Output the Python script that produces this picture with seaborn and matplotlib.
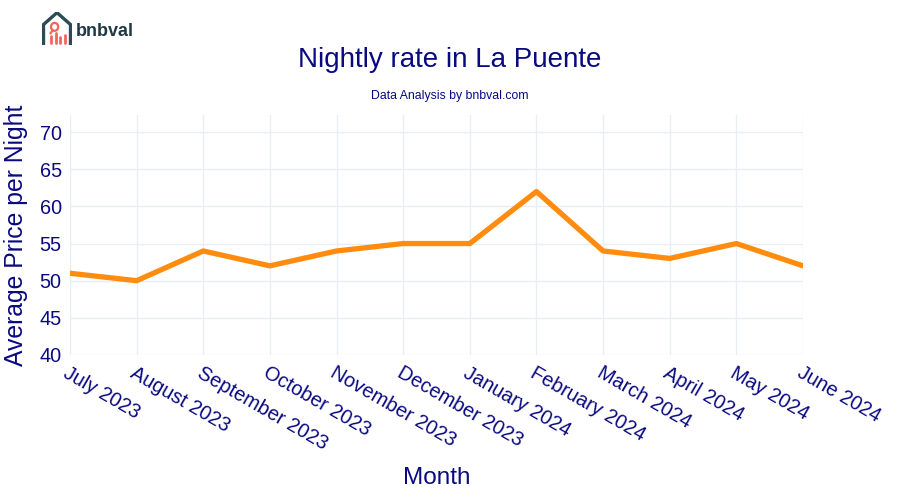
import matplotlib
matplotlib.use("Agg")
import matplotlib.pyplot as plt
import seaborn as sns
import pandas as pd

# data
months = ["July 2023", "August 2023", "September 2023", "October 2023",
          "November 2023", "December 2023", "January 2024", "February 2024",
          "March 2024", "April 2024", "May 2024", "June 2024"]
prices = [51, 50, 54, 52, 54, 55, 55, 62, 54, 53, 55, 52]
y_ticks = [40, 45, 50, 55, 60, 65, 70]

NAVY = "#0a0a80"
ORANGE = "#ff8c0f"
GRID = "#e9edf5"

sns.set_theme(style="white")
plt.rcParams["font.family"] = ["Liberation Sans", "DejaVu Sans"]

df = pd.DataFrame({"month": months, "price": prices})
df["pos"] = range(len(df))

fig = plt.figure(figsize=(9, 5), dpi=100)
ax = fig.add_axes([70 / 900, 1 - 355 / 500, 733 / 900, 240 / 500])

sns.lineplot(data=df, x="pos", y="price", ax=ax, color=ORANGE, lw=3.8,
             solid_joinstyle="round", solid_capstyle="round")

ax.set_xlim(0, len(months) - 1)
ax.set_ylim(40, 72.3)
ax.set_yticks(y_ticks)
ax.set_xticks(df["pos"])
ax.set_xticklabels(months, rotation=-30, ha="left", va="top",
                   rotation_mode="anchor", fontsize=14.3, color=NAVY)
ax.tick_params(axis="y", labelsize=14.3, labelcolor=NAVY, length=0, pad=6)
ax.tick_params(axis="x", length=0, pad=6)
ax.grid(True, color=GRID, lw=1)
ax.set_axisbelow(True)
for s in ax.spines.values():
    s.set_visible(False)

ax.set_xlabel("Month", fontsize=17.5, color=NAVY, labelpad=10)
ax.set_ylabel("Average Price per Night", fontsize=17.8, color=NAVY, labelpad=8)

fig.text(0.5, 1 - 60 / 500, "Nightly rate in La Puente", ha="center",
         va="center", fontsize=20, color=NAVY)
fig.text(0.5, 1 - 96 / 500, "Data Analysis by bnbval.com", ha="center",
         va="center", fontsize=8.8, color=NAVY)

# logo
lax = fig.add_axes([42 / 900, 1 - 45 / 500, 30 / 900, 33 / 500])
lax.set_xlim(0, 1)
lax.set_ylim(0, 1)
lax.axis("off")
lax.plot([0.05, 0.05, 0.5, 0.95, 0.95], [0.0, 0.62, 0.98, 0.62, 0.0],
         color="#2b4b55", lw=2.4, solid_joinstyle="miter")
red = "#f0675a"
for bx, bh in [(0.3, 0.22), (0.45, 0.32), (0.6, 0.18), (0.75, 0.26)]:
    lax.plot([bx, bx], [0.05, 0.05 + bh], color=red, lw=2)
circ = plt.Circle((0.42, 0.55), 0.12, fill=False, color=red, lw=1.6)
lax.add_patch(circ)
lax.plot([0.36, 0.28], [0.45, 0.35], color=red, lw=1.6)
fig.text(76 / 900, 1 - 31 / 500, "bnbval", ha="left", va="center",
         fontsize=13, fontweight="bold", color="#1f3b45")

fig.savefig("out.png", dpi=100)
